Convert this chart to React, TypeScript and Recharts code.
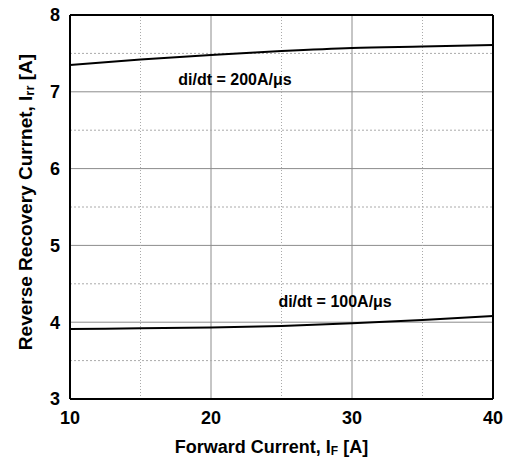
import React from "react";
import {
  LineChart,
  Line,
  XAxis,
  YAxis,
  CartesianGrid,
  ReferenceLine,
  ReferenceDot,
} from "recharts";

// Forward current I_F [A]
const currents = [10, 15, 20, 25, 30, 35, 40];
// Irr at di/dt = 200 A/us
const irr200 = [7.35, 7.42, 7.48, 7.53, 7.57, 7.59, 7.61];
// Irr at di/dt = 100 A/us
const irr100 = [3.91, 3.92, 3.93, 3.95, 3.985, 4.03, 4.08];

const xTicks = [10, 20, 30, 40];
const yTicks = [3, 4, 5, 6, 7, 8];
const xMinor = [15, 25, 35];
const yMinor = [3.5, 4.5, 5.5, 6.5, 7.5];

const data = currents.map((c, i) => ({ c, a: irr200[i], b: irr100[i] }));

const FONT = "'Liberation Sans', Arial, sans-serif";

function XTitle(props: any) {
  const { viewBox } = props;
  const cx = viewBox.x + viewBox.width / 2 - 10;
  return (
    <text x={cx} y={viewBox.y + 54} textAnchor="middle" fontFamily={FONT} fontWeight="bold" fontSize={18} fill="#000">
      Forward Current, I
      <tspan fontSize={12} dy={2}>F</tspan>
      <tspan dy={-2}> [A]</tspan>
    </text>
  );
}

function YTitle(props: any) {
  const { viewBox } = props;
  const cy = viewBox.y + viewBox.height / 2 - 5;
  const x = 32;
  return (
    <text
      x={x}
      y={cy}
      transform={`rotate(-90, ${x}, ${cy})`}
      textAnchor="middle"
      fontFamily={FONT}
      fontWeight="bold"
      fontSize={19}
      fill="#000"
    >
      Reverse Recovery Currnet, I
      <tspan fontSize={13} dy={2}>rr</tspan>
      <tspan dy={-2}> [A]</tspan>
    </text>
  );
}

function CurveLabel(text: string) {
  return (props: any) => {
    const { viewBox } = props;
    const x = viewBox.x + (viewBox.width || 0) / 2;
    const y = viewBox.y + (viewBox.height || 0) / 2;
    return (
      <text x={x} y={y} dy={6} textAnchor="middle" fontFamily={FONT} fontWeight="bold" fontSize={16} fill="#000">
        {text}
      </text>
    );
  };
}

export default function App() {
  return (
    <div style={{ position: "absolute", left: 0, top: 0, width: 510, height: 462, background: "#fff" }}>
      <LineChart width={510} height={462} data={data} margin={{ top: 15, right: 17, bottom: 0, left: 0 }}>
        <CartesianGrid stroke="#8c8c8c" strokeWidth={1} horizontalValues={[4, 5, 6, 7]} verticalValues={[20, 30]} />
        {xMinor.map((v) => (
          <ReferenceLine key={"x" + v} x={v} stroke="#aaa" strokeDasharray="1 2" />
        ))}
        {yMinor.map((v) => (
          <ReferenceLine key={"y" + v} y={v} stroke="#aaa" strokeDasharray="2 2" />
        ))}
        <XAxis
          dataKey="c"
          type="number"
          domain={[10, 40]}
          ticks={xTicks}
          height={63}
          tickLine={false}
          axisLine={false}
          tick={{ fontFamily: FONT, fontWeight: "bold", fontSize: 18, fill: "#000" }}
          tickMargin={6}
          label={{ content: XTitle }}
        />
        <YAxis
          type="number"
          domain={[3, 8]}
          ticks={yTicks}
          width={70}
          tickLine={false}
          axisLine={false}
          tick={{ fontFamily: FONT, fontWeight: "bold", fontSize: 18, fill: "#000" }}
          tickMargin={4}
          label={{ content: YTitle }}
        />
        <ReferenceLine x={10} stroke="#000" strokeWidth={2} />
        <ReferenceLine x={40} stroke="#000" strokeWidth={2} />
        <ReferenceLine y={3} stroke="#000" strokeWidth={2} />
        <ReferenceLine y={8} stroke="#000" strokeWidth={2} />
        <Line dataKey="a" type="monotone" stroke="#000" strokeWidth={2} dot={false} isAnimationActive={false} />
        <Line dataKey="b" type="monotone" stroke="#000" strokeWidth={2} dot={false} isAnimationActive={false} />
        <ReferenceDot x={21.7} y={7.17} r={0} stroke="none" fill="none" label={{ content: CurveLabel("di/dt = 200A/\u03bcs") }} />
        <ReferenceDot x={28.8} y={4.28} r={0} stroke="none" fill="none" label={{ content: CurveLabel("di/dt = 100A/\u03bcs") }} />
      </LineChart>
    </div>
  );
}
